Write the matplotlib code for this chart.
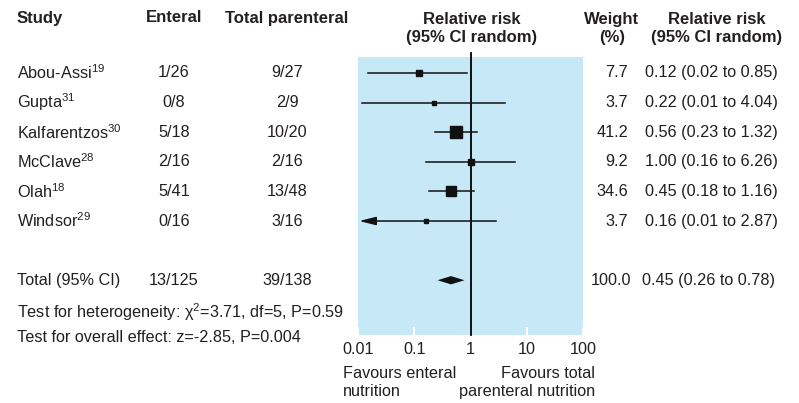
import matplotlib
matplotlib.use("Agg")
import matplotlib.pyplot as plt
import matplotlib.transforms as mtransforms
import numpy as np

# data
studies = ["Abou-Assi$^{19}$", "Gupta$^{31}$", "Kalfarentzos$^{30}$",
           "McClave$^{28}$", "Olah$^{18}$", "Windsor$^{29}$"]
enteral = ["1/26", "0/8", "5/18", "2/16", "5/41", "0/16"]
parenteral = ["9/27", "2/9", "10/20", "2/16", "13/48", "3/16"]
weights = [7.7, 3.7, 41.2, 9.2, 34.6, 3.7]
rr = [0.12, 0.22, 0.56, 1.00, 0.45, 0.16]
ci_lo = [0.015, 0.012, 0.23, 0.16, 0.18, 0.008]
ci_hi = [0.85, 4.04, 1.32, 6.26, 1.16, 2.87]
rr_text = ["0.12 (0.02 to 0.85)", "0.22 (0.01 to 4.04)", "0.56 (0.23 to 1.32)",
           "1.00 (0.16 to 6.26)", "0.45 (0.18 to 1.16)", "0.16 (0.01 to 2.87)"]

total_counts = ["13/125", "39/138"]
total_rr, total_lo, total_hi = 0.45, 0.26, 0.78
total_weight = "100.0"
total_text = "0.45 (0.26 to 0.78)"

xticks = [0.01, 0.1, 1, 10, 100]
xticklabels = ["0.01", "0.1", "1", "10", "100"]

plt.rcParams['font.family'] = ['Liberation Sans', 'DejaVu Sans']
plt.rcParams['mathtext.fontset'] = 'custom'
plt.rcParams['mathtext.rm'] = 'Liberation Sans'
plt.rcParams['mathtext.it'] = 'Liberation Sans:italic'
plt.rcParams['mathtext.default'] = 'regular'

W, H = 799, 403
ink = '#231f20'
blue = '#c6e8f7'
fs = 11.7
head_font = dict(fontweight='bold', fontsize=12, color=ink)

fig = plt.figure(figsize=(W / 100, H / 100), dpi=100)
ax = fig.add_axes([358 / W, (H - 335) / H, 225 / W, 278 / H])
ax.set_facecolor(blue)
ax.set_xscale('log')
ax.set_xlim(0.01, 100)
ax.set_ylim(8.85, -0.54)
for s in ax.spines.values():
    s.set_visible(False)
ax.set_xticks(xticks)
ax.set_xticklabels(xticklabels)
ax.minorticks_off()
ax.tick_params(axis='x', direction='in', length=6, width=1.5, color='white',
               labelsize=fs, labelcolor=ink, pad=5)
ax.set_yticks([])

# line of no effect
ax.plot([1, 1], [-0.68, 8.85], color='black', lw=1.3, clip_on=False, zorder=3)

rows = np.arange(len(studies))
for y, est, lo, hi, w in zip(rows, rr, ci_lo, ci_hi, weights):
    side = max(4.0, 1.85 * np.sqrt(w)) * 0.72
    if lo < 0.01:
        ax.annotate('', xy=(0.0105, y), xytext=(hi, y),
                    arrowprops=dict(arrowstyle='-|>,head_length=1.0,head_width=0.25',
                                    lw=1.1, color='#111111', shrinkA=0, shrinkB=0,
                                    mutation_scale=10))
    else:
        ax.plot([lo, hi], [y, y], color='#111111', lw=1.1, zorder=4)
    ax.plot(est, y, marker='s', ms=side, color='#111111', mec='#111111', zorder=5)

ty = 7
ax.fill([total_lo, total_rr, total_hi, total_rr], [ty, ty - 0.14, ty, ty + 0.14],
        color='#111111', lw=0, zorder=5)

tr = mtransforms.blended_transform_factory(fig.transFigure, ax.transData)

def col(x, y, s, ha='center'):
    ax.text(x / W, y, s, transform=tr, ha=ha, va='center', fontsize=fs, color=ink)

for y, name, e, p, w, t in zip(rows, studies, enteral, parenteral, weights, rr_text):
    col(17, y, name, ha='left')
    col(174, y, e)
    col(287, y, p)
    col(628, y, f"{w:.1f}", ha='right')
    col(645, y, t, ha='left')

col(17, ty, "Total (95% CI)", ha='left')
col(174, ty, total_counts[0])
col(287, ty, total_counts[1])
col(631, ty, total_weight, ha='right')
col(642, ty, total_text, ha='left')
col(17, 8.07, "Test for heterogeneity: χ$^2$=3.71, df=5, P=0.59", ha='left')
col(17, 8.95, "Test for overall effect: z=-2.85, P=0.004", ha='left')

# headers
def head(x, y, s, ha='center'):
    fig.text(x / W, 1 - y / H, s, ha=ha, va='center', linespacing=1.25, **head_font)

head(17, 18, "Study", ha='left')
head(174, 18, "Enteral")
head(287, 18, "Total parenteral")
head(472, 28.5, "Relative risk\n(95% CI random)")
head(612, 28.5, "Weight\n(%)")
head(717, 28.5, "Relative risk\n(95% CI random)")

fig.text(343 / W, 1 - 382.5 / H, "Favours enteral\nnutrition", ha='left', va='center',
         fontsize=fs, color=ink, linespacing=1.3)
fig.text(595 / W, 1 - 382.5 / H, "Favours total\nparenteral nutrition", ha='right',
         va='center', multialignment='right', fontsize=fs, color=ink, linespacing=1.3)

fig.savefig('out.png', dpi=100, facecolor='white')
